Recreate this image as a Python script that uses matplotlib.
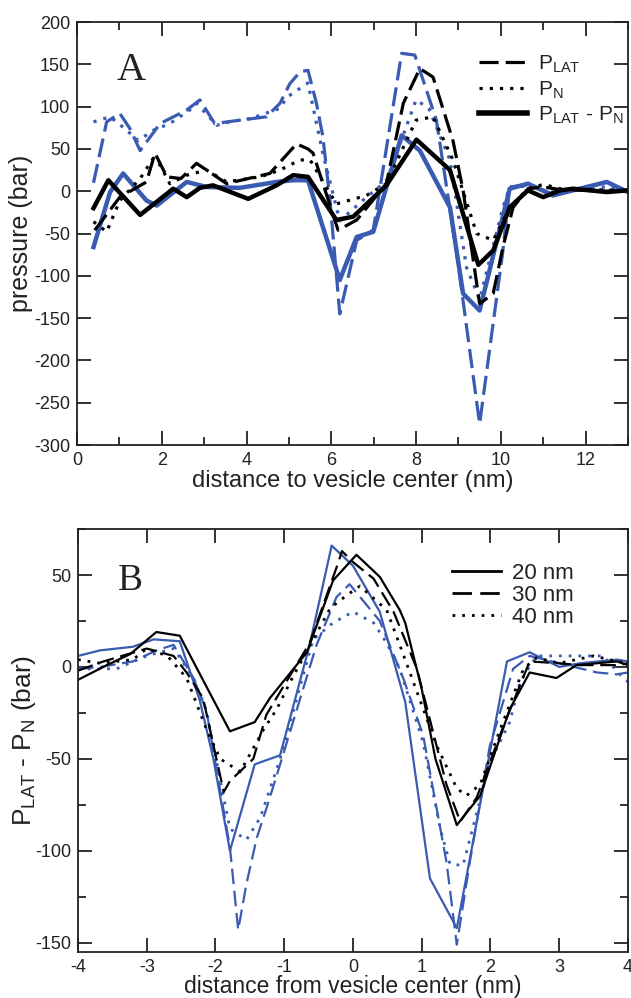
import matplotlib
matplotlib.use("Agg")
import matplotlib.pyplot as plt
from matplotlib.lines import Line2D
from matplotlib.ticker import MultipleLocator

plt.rcParams['font.family'] = ['Liberation Sans', 'DejaVu Sans']
plt.rcParams['mathtext.fontset'] = 'custom'
plt.rcParams['mathtext.rm'] = 'Liberation Sans'
plt.rcParams['mathtext.it'] = 'Liberation Sans:italic'
plt.rcParams['axes.unicode_minus'] = False

BLUE = '#3a5bb2'
INK = '#222222'

# --- Panel A: pressure profiles vs distance to vesicle center ---
a_blk_lat_x = [0.42, 1.01, 1.64, 1.84, 2.12, 2.45, 2.82, 3.06, 3.53, 4.55, 5.18, 5.45, 5.57, 6.16, 6.6,
               7.3, 7.7, 8.09, 8.4, 8.87, 9.11, 9.5, 9.82, 10.05, 10.29, 10.64, 11.0, 11.4, 12.0, 12.5, 13.0]
a_blk_lat_y = [-46, -7, 11, 45, 17, 15, 33, 25, 9, 21, 56, 50, 45, -46, -34,
               9, 104, 145, 135, 60, 1, -133, -121, -66, -19, 3, 5, 2, 1, 0, 1]

a_blk_n_x = [0.39, 0.7, 1.01, 1.49, 1.8, 1.96, 2.19, 2.59, 3.06, 3.53, 4.32, 4.79, 5.26, 5.5, 6.12, 6.83,
             7.3, 8.0, 8.4, 8.87, 9.43, 9.82, 10.21, 10.64, 11.0, 11.4, 12.0, 13.0]
a_blk_n_y = [-36, -48, -11, 15, 39, 31, 9, 19, 25, 11, 17, 25, 37, 37, -15, -5,
             9, 84, 88, 37, -50, -58, -19, 3, 8, 3, 2, 1]

a_blk_diff_x = [0.39, 0.74, 1.49, 2.27, 2.59, 2.9, 3.21, 4.04, 4.71, 5.1, 5.45, 6.12, 6.52, 7.3, 8.01,
                8.8, 9.47, 9.82, 10.21, 10.64, 11.0, 11.4, 11.7, 12.5, 13.0]
a_blk_diff_y = [-20, 13, -28, 3, -7, 4, 7, -9, 7, 19, 17, -34, -30, 7, 61,
                25, -87, -70, -19, 1, -7, 1, 3, -1, 1]

a_blu_lat_x = [0.39, 0.7, 1.01, 1.25, 1.49, 1.96, 2.59, 2.9, 3.25, 3.84, 4.47, 4.79, 5.02, 5.26, 5.45,
               5.65, 5.8, 5.97, 6.2, 6.6, 6.99, 7.66, 7.97, 8.48, 8.96, 9.5, 10.05, 10.21, 10.64,
               11.2, 11.7, 12.5, 12.9, 13.0]
a_blu_lat_y = [10, 82, 92, 74, 48, 80, 96, 108, 80, 84, 88, 104, 127, 141, 143,
               104, 65, -11, -145, -58, -46, 163, 161, 84, -74, -275, -70, 5, 8,
               -3, 2, 10, 2, 0]

a_blu_n_x = [0.39, 0.78, 1.03, 1.45, 1.8, 2.19, 2.66, 2.82, 3.3, 3.6, 4.1, 4.79, 4.95, 5.45, 5.8, 6.2,
             6.83, 7.3, 8.0, 8.3, 8.8, 9.19, 9.5, 10.05, 10.21, 10.64, 11.2, 11.7, 12.5, 13.0]
a_blu_n_y = [82, 88, 78, 60, 72, 80, 96, 104, 78, 82, 86, 98, 111, 128, 45, -35,
             -7, 12, 108, 98, 37, -90, -128, -19, 5, 6, -1, 3, 5, 0]

a_blu_diff_x = [0.39, 0.78, 1.09, 1.64, 1.88, 2.59, 3.06, 3.84, 4.71, 5.1, 5.45, 6.2, 6.6, 6.99, 7.66,
                8.09, 8.8, 9.11, 9.5, 10.21, 10.64, 11.23, 11.7, 12.5, 13.0]
a_blu_diff_y = [-66, -1, 21, -11, -17, 11, 5, 4, 11, 13, 13, -105, -54, -48, 66,
                48, -19, -121, -141, 3, 9, -5, 1, 11, -1]

# --- Panel B: P_LAT - P_N vs distance from vesicle center ---
b_blk_20_x = [-4.0, -3.58, -3.24, -2.86, -2.52, -1.79, -1.43, -1.21, -0.67, -0.29, 0.05, 0.39, 0.68,
              0.76, 1.0, 1.2, 1.51, 1.85, 2.28, 2.57, 2.96, 3.25, 3.84, 4.0]
b_blk_20_y = [-7, 1, 7, 19, 17, -35, -30, -17, 8, 47, 61, 49, 31,
              24, -12, -50, -86, -70, -23, -3, -6, 1, 3, 1]

b_blk_30_x = [-4.0, -3.63, -3.0, -2.61, -2.42, -2.18, -1.88, -1.79, -1.45, -1.26, -0.63, -0.24, -0.16,
              0.0, 0.3, 0.59, 0.93, 1.36, 1.56, 1.8, 2.19, 2.57, 3.0, 3.3, 3.84, 4.0]
b_blk_30_y = [-2, 3, 10, 6, -3, -17, -68, -62, -50, -26, 13, 54, 63,
              57, 48, 30, -1, -64, -84, -71, -32, 3, 2, 1, 1, 2]

b_blk_40_x = [-4.0, -3.68, -3.2, -3.0, -2.7, -2.42, -2.13, -1.93, -1.64, -1.3, -1.11, -0.87, -0.33,
              -0.09, 0.1, 0.49, 0.68, 1.22, 1.51, 1.65, 1.85, 2.14, 2.48, 2.67, 3.0, 3.5, 3.84, 4.0]
b_blk_40_y = [4, 2, 4, 10, 6, -6, -34, -50, -57, -34, -23, -5, 32,
              39, 44, 31, 12, -43, -66, -70, -64, -34, -1, 5, 2, 6, 3, 2]

b_blu_20_x = [-4.0, -3.68, -3.2, -2.9, -2.52, -2.23, -2.03, -1.79, -1.43, -1.06, -0.63, -0.31, 0.0,
              0.39, 0.76, 1.12, 1.51, 2.24, 2.57, 3.0, 3.3, 3.84, 4.0]
b_blu_20_y = [6, 9, 11, 15, 14, -18, -50, -100, -53, -48, 12, 66, 55,
              30, -19, -115, -142, 3, 8, 0, 2, 4, 3]

b_blu_30_x = [-4.0, -3.68, -3.2, -2.86, -2.61, -2.32, -2.13, -1.79, -1.67, -1.55, -1.4, -1.26, -1.06,
              -0.53, -0.24, -0.05, 0.39, 0.73, 1.02, 1.36, 1.51, 1.7, 1.99, 2.33, 2.57, 3.0, 3.55,
              3.84, 4.0]
b_blu_30_y = [-1, 0, 3, 9, 12, -6, -24, -98, -143, -118, -93, -77, -53,
              12, 38, 45, 25, -6, -37, -106, -151, -106, -43, -1, 6, 2, -3,
              -4, -3]

b_blu_40_x = [-4.0, -3.44, -3.0, -2.61, -2.32, -2.13, -1.79, -1.55, -1.35, -1.06, -0.58, -0.29, 0.0,
              0.3, 0.49, 0.68, 1.02, 1.27, 1.41, 1.6, 1.99, 2.28, 2.43, 2.67, 3.1, 3.64, 3.93, 4.0]
b_blu_40_y = [-1, -1, 6, 10, -6, -24, -88, -94, -82, -50, 15, 24, 30,
              24, 13, -1, -41, -88, -107, -108, -52, -30, -8, 6, 6, 6, -6, -8]


def style_axes(ax):
    for s in ax.spines.values():
        s.set_linewidth(1.3)
        s.set_color(INK)
    ax.tick_params(which='both', direction='in', top=True, right=True,
                   width=1.3, colors=INK, labelsize=13, pad=5)
    ax.tick_params(which='major', length=10)
    ax.tick_params(which='minor', length=6)


fig = plt.figure(figsize=(6.31, 9.98), dpi=100)

# Panel A
axA = fig.add_axes([0.122, 0.5541, 0.8732, 0.4238])
LW_A = 2.3
axA.plot(a_blu_lat_x, a_blu_lat_y, color=BLUE, lw=LW_A, dashes=(6, 2.2))
axA.plot(a_blu_n_x, a_blu_n_y, color=BLUE, lw=LW_A, dashes=(1, 2.2))
axA.plot(a_blu_diff_x, a_blu_diff_y, color=BLUE, lw=3.2)
axA.plot(a_blk_lat_x, a_blk_lat_y, color='black', lw=LW_A, dashes=(6, 2.2))
axA.plot(a_blk_n_x, a_blk_n_y, color='black', lw=LW_A, dashes=(1, 2.2))
axA.plot(a_blk_diff_x, a_blk_diff_y, color='black', lw=3.2)

axA.set_xlim(0, 13)
axA.set_ylim(-300, 200)
axA.xaxis.set_major_locator(MultipleLocator(2))
axA.xaxis.set_minor_locator(MultipleLocator(1))
axA.yaxis.set_major_locator(MultipleLocator(50))
style_axes(axA)
axA.set_xlabel('distance to vesicle center (nm)', fontsize=17, color=INK, labelpad=1)
axA.set_ylabel('pressure (bar)', fontsize=18, color=INK, labelpad=1)
axA.text(0.072, 0.863, 'A', transform=axA.transAxes, fontsize=29,
         family='Liberation Serif', color=INK)

hA = [Line2D([], [], color='black', lw=LW_A, dashes=(6, 2.2)),
      Line2D([], [], color='black', lw=LW_A, dashes=(1, 2.2)),
      Line2D([], [], color='black', lw=4)]
axA.legend(hA, [r'P$_\mathrm{LAT}$', r'P$_\mathrm{N}$', r'P$_\mathrm{LAT}$ - P$_\mathrm{N}$'],
           loc='upper left', bbox_to_anchor=(0.729, 0.925), frameon=False, fontsize=15,
           handlelength=2.3, handletextpad=0.55, labelspacing=0.2, borderpad=0, borderaxespad=0,
           labelcolor=INK)

# Panel B
axB = fig.add_axes([0.1236, 0.0461, 0.8716, 0.4238])
LW_B = 1.6
axB.plot(b_blu_30_x, b_blu_30_y, color=BLUE, lw=LW_B, dashes=(7, 3))
axB.plot(b_blu_40_x, b_blu_40_y, color=BLUE, lw=2.0, dashes=(1, 2.5))
axB.plot(b_blu_20_x, b_blu_20_y, color=BLUE, lw=LW_B)
axB.plot(b_blk_30_x, b_blk_30_y, color='black', lw=LW_B, dashes=(7, 3))
axB.plot(b_blk_40_x, b_blk_40_y, color='black', lw=2.0, dashes=(1, 2.5))
axB.plot(b_blk_20_x, b_blk_20_y, color='black', lw=LW_B)

axB.set_xlim(-4, 4)
axB.set_ylim(-155, 75)
axB.xaxis.set_major_locator(MultipleLocator(1))
axB.yaxis.set_major_locator(MultipleLocator(50))
axB.yaxis.set_minor_locator(MultipleLocator(25))
style_axes(axB)
axB.set_xlabel('distance from vesicle center (nm)', fontsize=16.5, color=INK, labelpad=-1)
axB.set_ylabel(r'P$_\mathrm{LAT}$ - P$_\mathrm{N}$ (bar)', fontsize=19, color=INK, labelpad=-2)
axB.text(0.072, 0.856, 'B', transform=axB.transAxes, fontsize=27,
         family='Liberation Serif', color=INK)

hB = [Line2D([], [], color='black', lw=2.0),
      Line2D([], [], color='black', lw=2.0, dashes=(7, 3)),
      Line2D([], [], color='black', lw=2.0, dashes=(1, 2.5))]
axB.legend(hB, ['20 nm', '30 nm', '40 nm'], loc='upper left', bbox_to_anchor=(0.68, 0.92),
           frameon=False, fontsize=16, handlelength=2.2, handletextpad=0.5, labelspacing=0.05,
           borderpad=0, borderaxespad=0, labelcolor=INK)

fig.savefig('out.png', dpi=100)
